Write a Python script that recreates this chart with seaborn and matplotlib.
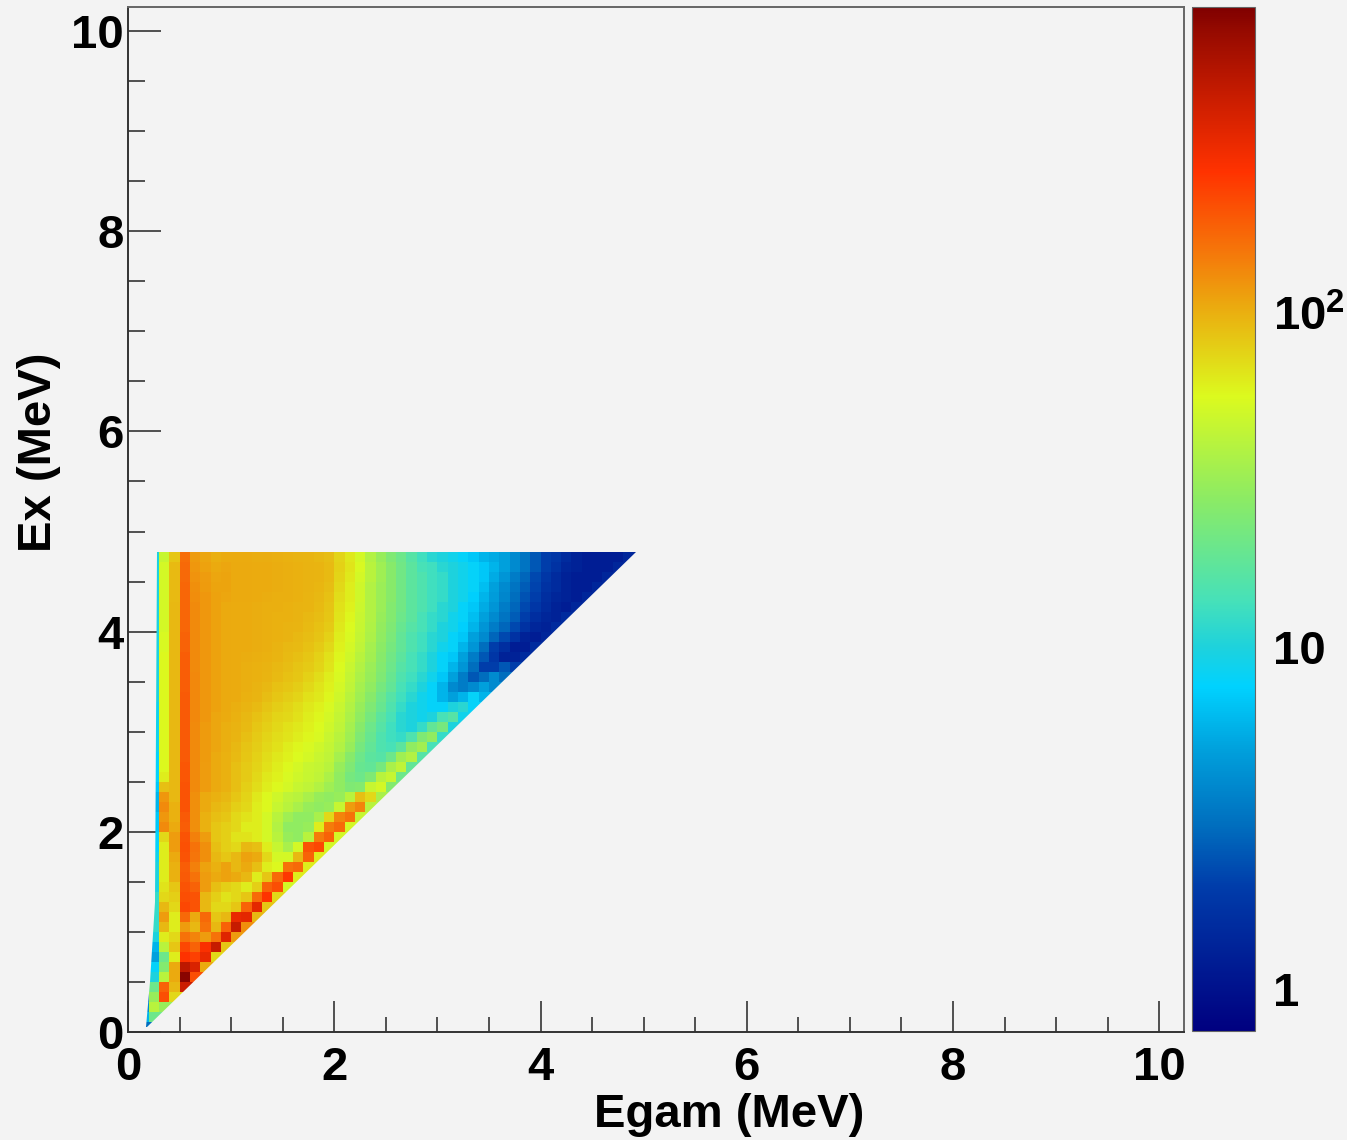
# =====================================
# Import libraries
# =====================================
import numpy as np
import pandas as pd
import seaborn as sns
import matplotlib
matplotlib.use('Agg')
import matplotlib.pyplot as plt
from matplotlib.colors import LinearSegmentedColormap, LogNorm
from matplotlib.patches import Polygon
from matplotlib.ticker import NullFormatter
from matplotlib.transforms import ScaledTranslation

# =====================================
# Data
# =====================================
# counts per 0.1 MeV cell; each row is one Ex bin starting at 0.0 MeV,
# each row starts at the Egam bin 0.1-0.2 MeV
counts = [
    [3],
    [6, 20],
    [4, 40, 30],
    [3, 30, 200, 70],
    [2, 20, 170, 90, 400],
    [2, 10, 40, 100, 700, 200],
    [2, 8, 25, 100, 450, 350, 100],
    [2, 5, 20, 60, 250, 220, 300, 70],
    [2, 6, 40, 80, 210, 170, 260, 420, 80],
    [2, 10, 60, 70, 150, 130, 110, 150, 330, 110],
    [2, 12, 90, 60, 110, 90, 150, 90, 170, 420, 120],
    [2, 12, 110, 60, 160, 100, 160, 80, 90, 300, 320, 90],
    [2, 12, 90, 70, 210, 190, 90, 70, 70, 80, 170, 320, 80],
    [2, 12, 70, 75, 200, 190, 90, 75, 65, 70, 80, 160, 250, 70],
    [2, 10, 65, 80, 190, 170, 110, 85, 75, 70, 60, 75, 170, 200, 50],
    [1.5, 10, 60, 95, 180, 150, 110, 100, 105, 100, 90, 60, 80, 160, 240, 60],
    [1.5, 10, 60, 95, 175, 135, 105, 95, 105, 90, 100, 85, 60, 55, 150, 160, 60],
    [1.5, 9, 60, 100, 190, 145, 120, 90, 80, 90, 105, 100, 70, 50, 50, 90, 170, 60],
    [1.5, 8, 60, 110, 195, 150, 120, 85, 75, 70, 90, 85, 60, 45, 35, 50, 190, 210, 50],
    [1.5, 8, 70, 110, 190, 135, 110, 80, 75, 65, 65, 60, 50, 40, 30, 28, 40, 140, 170, 50],
    [1.5, 7, 125, 100, 175, 120, 95, 80, 75, 70, 60, 60, 50, 38, 28, 28, 30, 60, 140, 160, 50],
    [1.5, 7, 115, 95, 180, 120, 95, 85, 80, 70, 65, 60, 50, 40, 32, 28, 28, 35, 70, 130, 150, 45],
    [1.5, 6, 125, 95, 190, 120, 100, 90, 85, 75, 70, 60, 55, 45, 40, 35, 30, 28, 30, 45, 110, 130, 40],
    [1.5, 6, 115, 90, 190, 120, 100, 95, 90, 80, 72, 62, 55, 48, 42, 40, 35, 30, 28, 30, 40, 85, 70, 35],
    [1.5, 7, 85, 90, 190, 125, 110, 100, 95, 85, 75, 68, 60, 55, 50, 45, 42, 38, 32, 28, 24, 25, 45, 50, 25],
    [1.5, 8, 60, 90, 185, 125, 110, 100, 95, 85, 78, 70, 62, 58, 52, 48, 45, 42, 36, 28, 22, 20, 24, 40, 45, 20],
    [1.5, 8, 55, 90, 185, 125, 110, 100, 95, 85, 78, 72, 66, 60, 55, 50, 46, 44, 40, 30, 24, 19, 18, 22, 35, 42, 18],
    [1.5, 8, 55, 90, 180, 125, 112, 100, 95, 88, 80, 74, 68, 62, 58, 54, 50, 46, 42, 34, 26, 20, 17, 16, 20, 32, 38, 16],
    [1.5, 9, 55, 90, 180, 125, 112, 102, 96, 90, 82, 76, 70, 66, 60, 56, 52, 48, 44, 38, 30, 22, 18, 15, 14, 17, 28, 33, 14],
    [1.5, 9, 55, 90, 180, 125, 112, 102, 96, 92, 85, 78, 72, 68, 64, 60, 56, 52, 46, 40, 32, 24, 19, 15, 13, 12, 15, 24, 28, 12],
    [1.5, 9, 55, 90, 180, 125, 112, 102, 96, 93, 88, 80, 75, 70, 66, 62, 58, 54, 48, 42, 34, 26, 20, 16, 13, 11, 10, 12, 18, 22, 10],
    [1.5, 9, 55, 90, 180, 128, 115, 102, 98, 95, 90, 84, 78, 72, 70, 66, 60, 56, 50, 44, 36, 28, 22, 17, 14, 11, 10, 9, 10, 14, 16, 9],
    [1.5, 9, 55, 90, 180, 128, 115, 105, 100, 96, 92, 88, 82, 76, 72, 68, 62, 58, 52, 46, 38, 30, 24, 19, 15, 12, 10, 9, 8, 8, 10, 11, 8],
    [1.5, 10, 55, 90, 180, 128, 115, 105, 100, 98, 95, 92, 86, 80, 76, 72, 66, 62, 56, 48, 40, 32, 26, 20, 16, 13, 11, 9, 8, 6, 5, 6, 8, 6],
    [1.5, 10, 55, 90, 175, 128, 115, 105, 100, 98, 96, 94, 90, 84, 80, 76, 70, 64, 58, 50, 42, 34, 28, 22, 18, 14, 12, 10, 8, 6, 4, 3.5, 4, 5, 4],
    [1.5, 10, 55, 90, 175, 128, 115, 106, 100, 98, 96, 95, 92, 88, 84, 80, 74, 68, 60, 52, 44, 36, 30, 24, 19, 15, 13, 11, 9, 7, 5, 3.5, 2.5, 3, 4, 3],
    [1.5, 10, 55, 90, 175, 125, 115, 106, 100, 98, 96, 95, 94, 90, 86, 82, 78, 72, 64, 54, 46, 38, 31, 25, 20, 16, 14, 12, 10, 8, 6, 4.5, 3, 2, 2, 2.5, 2],
    [1.5, 10, 55, 90, 175, 125, 115, 106, 100, 98, 97, 96, 95, 92, 88, 85, 80, 74, 66, 56, 48, 40, 33, 26, 21, 17, 14, 12, 10, 8, 7, 5, 3.5, 2.5, 1.8, 1.3, 1.3, 1.5],
    [1.5, 10, 52, 90, 170, 125, 115, 106, 100, 98, 98, 97, 96, 94, 90, 88, 84, 78, 70, 58, 50, 42, 34, 27, 22, 18, 15, 13, 11, 9, 8, 6, 4.5, 3, 2, 1.6, 1.2, 1.2, 1.5],
    [1.5, 10, 52, 90, 170, 125, 115, 106, 100, 98, 98, 97, 96, 95, 94, 90, 86, 82, 74, 60, 52, 44, 36, 28, 23, 18, 15, 13, 11, 10, 8, 7, 5, 4, 2.8, 2.2, 1.7, 1.3, 1.2, 1.4],
    [1.5, 10, 50, 90, 165, 125, 115, 106, 100, 98, 98, 97, 96, 95, 94, 92, 88, 84, 78, 62, 54, 45, 37, 29, 24, 19, 16, 14, 12, 10, 9, 7.5, 6, 4.5, 3.5, 2.8, 2.2, 1.7, 1.4, 1.3, 1.5],
    [1.5, 10, 50, 90, 165, 125, 115, 106, 100, 98, 98, 97, 96, 95, 95, 93, 90, 86, 80, 64, 56, 46, 38, 30, 25, 20, 17, 14, 12, 11, 9, 8, 6.5, 5, 4, 3.2, 2.6, 2, 1.6, 1.4, 1.3, 1.5],
    [1.5, 10, 50, 90, 165, 125, 115, 106, 100, 98, 98, 97, 96, 96, 95, 94, 92, 88, 82, 66, 58, 47, 38, 31, 25, 21, 17, 15, 13, 11, 10, 8, 7, 5.5, 4.5, 3.5, 2.8, 2.2, 1.8, 1.5, 1.3, 1.2, 1.4],
    [1.5, 10, 50, 88, 165, 122, 115, 106, 102, 100, 100, 98, 97, 96, 96, 95, 92, 90, 84, 68, 60, 48, 38, 31, 26, 21, 17, 15, 13, 12, 10, 9, 7.5, 6, 4.8, 3.8, 3, 2.4, 2, 1.6, 1.4, 1.3, 1.2, 1.4],
    [1.5, 10, 50, 88, 165, 120, 112, 104, 104, 100, 100, 98, 98, 97, 96, 95, 93, 91, 86, 70, 60, 48, 38, 31, 26, 21, 17, 15, 13, 12, 10, 9, 8, 6.5, 5, 4, 3.2, 2.6, 2.1, 1.7, 1.5, 1.3, 1.2, 1.2, 1.4],
    [1.5, 10, 50, 88, 160, 118, 110, 102, 104, 100, 100, 98, 98, 97, 96, 95, 94, 92, 88, 72, 62, 50, 40, 32, 26, 21, 17, 15, 13, 12, 10, 9, 8, 7, 5.5, 4.5, 3.5, 2.8, 2.2, 1.8, 1.5, 1.3, 1.2, 1.2, 1.2, 1.4],
    [1.5, 10, 50, 88, 160, 115, 105, 100, 102, 100, 100, 98, 98, 97, 96, 95, 94, 92, 88, 74, 64, 52, 40, 32, 26, 21, 17, 14, 13, 11, 10, 9, 8, 7, 6, 5, 4, 3.2, 2.5, 2, 1.7, 1.4, 1.3, 1.2, 1.2, 1.2, 1.4],
    [1.5, 10, 45, 80, 155, 112, 102, 96, 98, 98, 98, 97, 97, 96, 95, 94, 92, 90, 86, 72, 62, 50, 38, 30, 24, 20, 16, 13, 11, 10, 9, 8, 7, 6, 5.5, 5, 4, 3.2, 2.5, 2, 1.8, 1.5, 1.3, 1.2, 1.2, 1.2, 1.2, 1.4],
]

# outline of the filled region (MeV)
edge_egam = [0.18, 0.17, 0.21, 0.26, 0.28, 4.93]
edge_ex = [0.05, 0.05, 0.50, 1.30, 4.80, 4.80]

major_ticks = [0, 2, 4, 6, 8, 10]
minor_ticks = [v * 0.5 for v in range(21) if v % 4 != 0]
cbar_major = [1, 10, 100]
cbar_labels = ['1', '10', r'$\mathbf{10^{2}}$']
cbar_minor = [0.8, 0.9, 2, 3, 4, 5, 6, 7, 8, 9, 20, 30, 40, 50, 60, 70, 80, 90,
              200, 300, 400, 500, 600, 700]

# =====================================
# Style
# =====================================
bg = '#f3f3f3'
sns.set_style('white')
plt.rcParams['font.family'] = ['Liberation Sans', 'DejaVu Sans']
plt.rcParams['font.weight'] = 'bold'
plt.rcParams['text.color'] = 'black'
plt.rcParams['axes.labelcolor'] = 'black'
plt.rcParams['xtick.labelcolor'] = 'black'
plt.rcParams['ytick.labelcolor'] = 'black'
plt.rcParams['mathtext.fontset'] = 'custom'
plt.rcParams['mathtext.bf'] = 'Liberation Sans:bold'
plt.rcParams['mathtext.rm'] = 'Liberation Sans:bold'

palette = LinearSegmentedColormap.from_list('root_rainbow', [
    (0.00, '#000080'), (0.14, '#003caa'), (0.20, '#006ebe'),
    (0.274, '#00a0dc'), (0.336, '#00d2ff'), (0.375, '#1ed2dc'),
    (0.42, '#46e1b9'), (0.52, '#8ceb64'), (0.62, '#dcfa1e'),
    (0.708, '#ebaa0f'), (0.76, '#f5780a'), (0.84, '#ff3200'),
    (0.907, '#cd1e00'), (0.977, '#960a00'), (1.00, '#800000'),
], N=512)

# =====================================
# Build table (1 cell = 0.1 MeV)
# =====================================
grid = np.full((103, 103), np.nan)
for k, row in enumerate(counts):
    grid[k, 1:len(row) + 1] = row
    # last value also fills the sliver up to the diagonal edge
    grid[k, len(row) + 1] = row[-1]
table = pd.DataFrame(grid)

# =====================================
# Plot
# =====================================
W, H = 1347, 1140
fig = plt.figure(figsize=(W / 100, H / 100), dpi=100, facecolor=bg)
ax = fig.add_axes([128 / W, 1 - 1032 / H, 1056 / W, 1025 / H], facecolor=bg)
cax = fig.add_axes([1192 / W, 1 - 1031 / H, 63 / W, 1024 / H])

sns.heatmap(table, ax=ax, cbar_ax=cax, cmap=palette, norm=LogNorm(vmin=0.753, vmax=750),
            xticklabels=False, yticklabels=False, square=False)
ax.set_xlim(0, 102.4)
ax.set_ylim(0, 102.4)

mesh = ax.collections[0]
mesh.set_clip_path(Polygon(np.c_[np.array(edge_egam) * 10, np.array(edge_ex) * 10],
                           transform=ax.transData))

# axes frame and ticks
for name, spine in ax.spines.items():
    spine.set_visible(True)
    spine.set_color('#333333' if name in ('left', 'bottom') else '#666666')
    spine.set_linewidth(1.4)

ax.set_xticks([v * 10 for v in major_ticks])
ax.set_yticks([v * 10 for v in major_ticks])
ax.set_xticklabels([str(v) for v in major_ticks], fontsize=34, fontweight='bold', rotation=0)
ax.set_yticklabels([str(v) for v in major_ticks], fontsize=34, fontweight='bold', rotation=0)
ax.set_xticks([v * 10 for v in minor_ticks], minor=True)
ax.set_yticks([v * 10 for v in minor_ticks], minor=True)
ax.tick_params(axis='x', which='major', direction='in', length=22, width=1.2, color='#333333', pad=10, bottom=True)
ax.tick_params(axis='x', which='minor', direction='in', length=11, width=1.2, color='#333333', bottom=True)
ax.tick_params(axis='y', which='major', direction='in', length=24, width=1.2, color='#333333', pad=3, left=True)
ax.tick_params(axis='y', which='minor', direction='in', length=12, width=1.2, color='#333333', left=True)

ax.set_xlabel('Egam (MeV)', fontsize=34, fontweight='bold')
ax.set_ylabel('Ex (MeV)', fontsize=34, fontweight='bold')
ax.xaxis.set_label_coords(0.569, -0.081)
ax.xaxis.label.set_verticalalignment('center')
ax.yaxis.set_label_coords(-0.084, 0.566)
ax.yaxis.label.set_verticalalignment('center')

# colour bar
cbar = mesh.colorbar
cbar.set_ticks(cbar_major, labels=cbar_labels)
cbar.ax.yaxis.set_ticks(cbar_minor, minor=True)
cbar.ax.yaxis.set_minor_formatter(NullFormatter())
cbar.ax.tick_params(which='major', direction='in', length=24.5, width=1.2, color='#222222',
                    labelsize=34, pad=13, right=True, left=False)
cbar.ax.tick_params(which='minor', direction='in', length=12, width=1.2, color='#222222',
                    right=True, left=False)
cbar.outline.set_edgecolor('#666666')
cbar.outline.set_linewidth(0.8)

# 10^2 sits a little under its tick
label_100 = cbar.ax.yaxis.get_ticklabels()[2]
label_100.set_transform(label_100.get_transform() + ScaledTranslation(0, -5 / 72, fig.dpi_scale_trans))

plt.savefig('out.png', dpi=100, facecolor=bg)
